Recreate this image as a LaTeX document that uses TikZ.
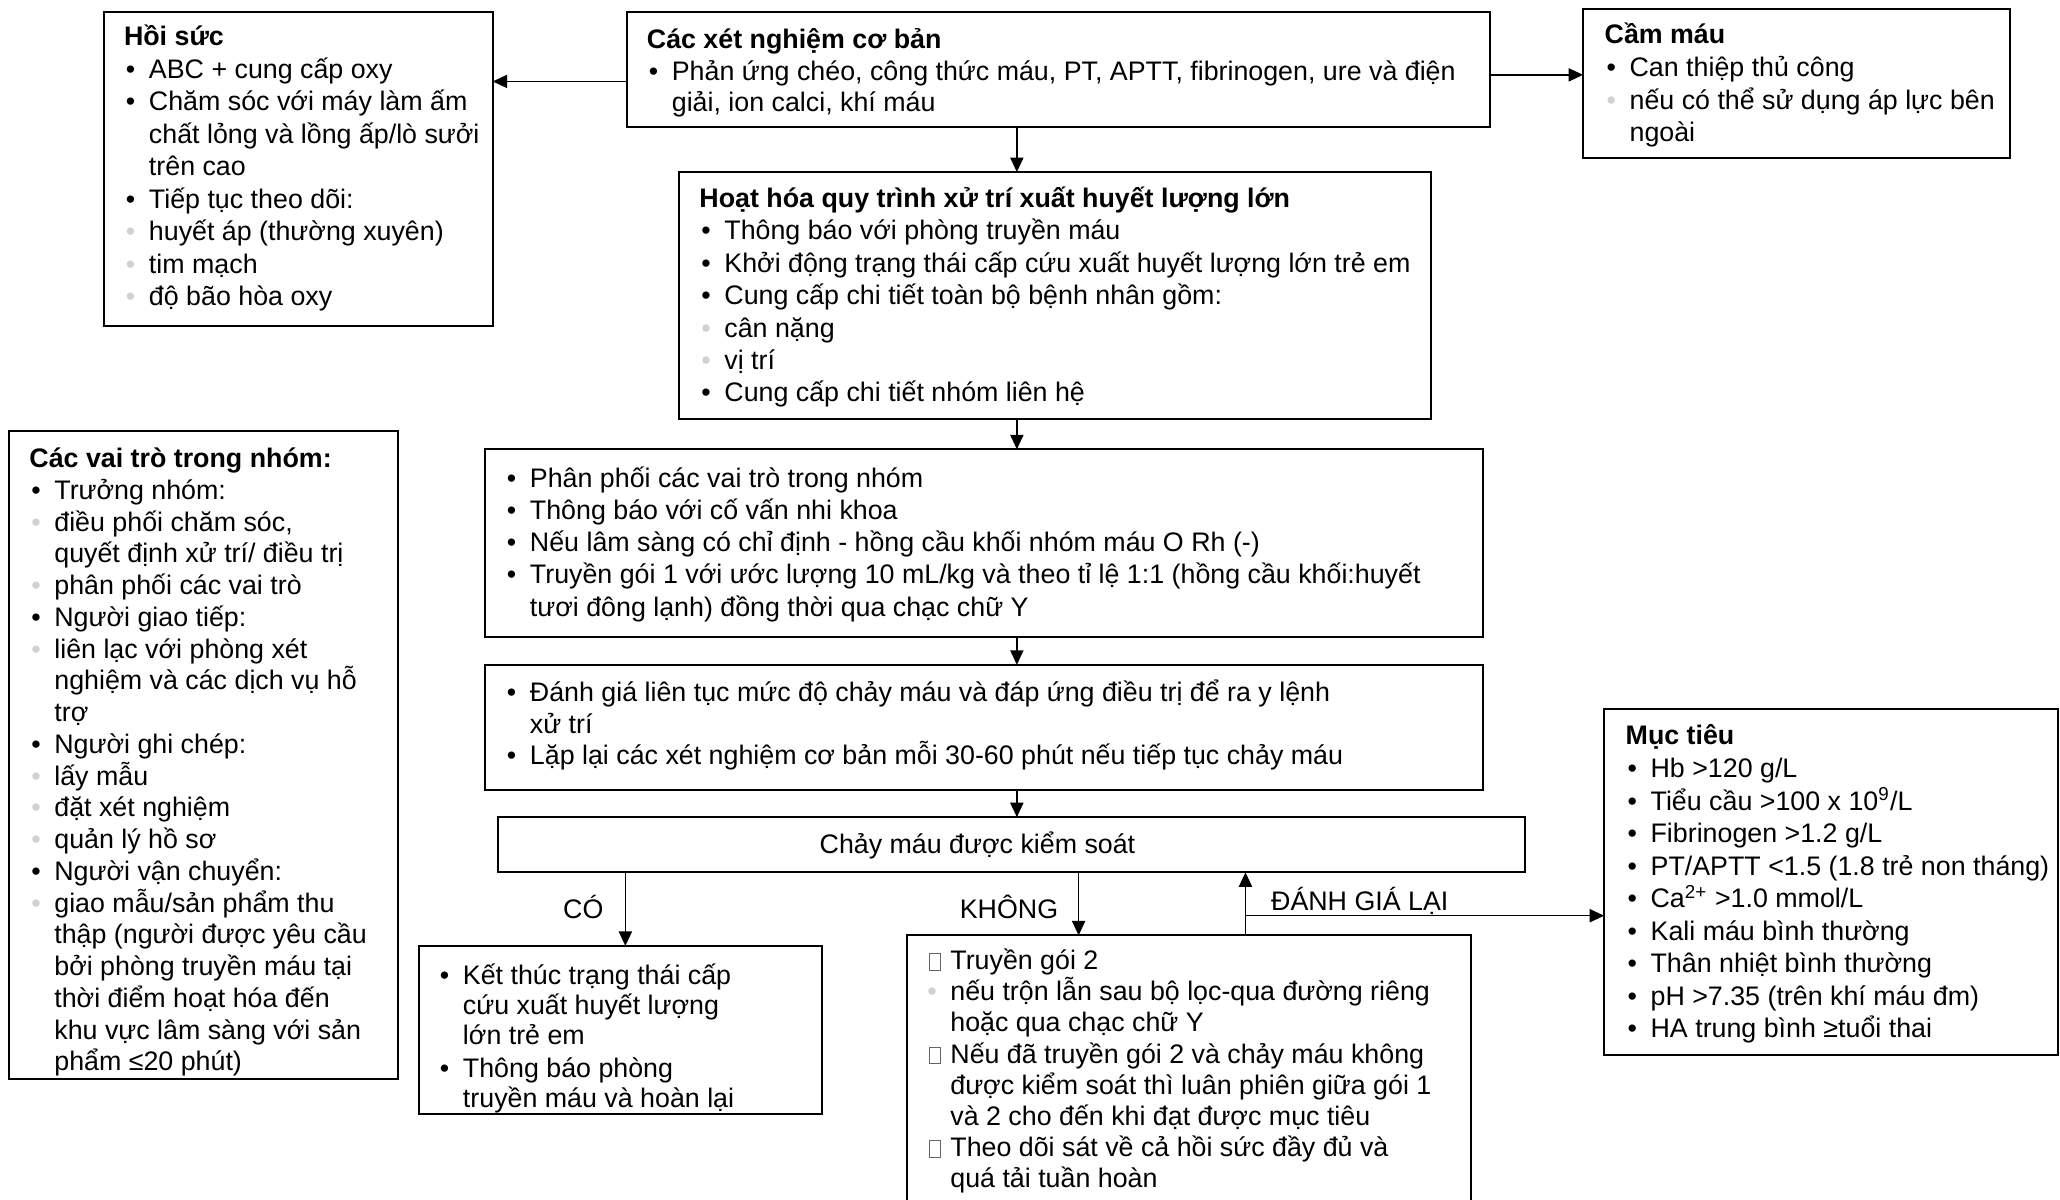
\documentclass[tikz,border=0pt]{standalone}
\usepackage{fontspec}
\setmainfont{Liberation Sans}
\usetikzlibrary{arrows.meta}

% item markers: black bullet, light grey sub-bullet, plain indent, empty glyph box
\newlength\itemind
\setlength\itemind{9.5pt}
\newcommand\blk{\makebox[\itemind][r]{\textbullet\hspace{5.2pt}}}
\newcommand\gry{\makebox[\itemind][r]{\textcolor{black!18}{\textbullet}\hspace{5.2pt}}}
\newcommand\ind{\makebox[\itemind]{}}
\newcommand\tofu{{\setlength\fboxsep{0pt}\setlength\fboxrule{0.35pt}\textcolor{black!60}{\fbox{\rule{0pt}{5.8pt}\rule{3.8pt}{0pt}}}}}
\newcommand\tfi{\makebox[\itemind][r]{\tofu\hspace{3.5pt}}}
% a block of left-aligned rows with a fixed line pitch; baseline = first row
\newcommand\rows[2]{\vtop{\baselineskip=#1\lineskiplimit=-50pt\lineskip=0pt\halign{##\hfil\cr#2\crcr}}}

\tikzset{
  box/.style={draw, line width=0.75pt, rectangle, anchor=north west, inner sep=0pt, outer sep=0pt},
  txt/.style={anchor=base west, inner sep=0pt, font=\fontsize{10.2pt}{12pt}\selectfont},
  lbl/.style={anchor=base, inner sep=0pt, font=\fontsize{10.2pt}{12pt}\selectfont},
  arr/.style={line width=0.55pt, -{Triangle[length=5.5pt,width=5pt]}}
}

\begin{document}
\begin{tikzpicture}[x=0.5pt, y=-0.5pt]
\useasboundingbox (0,0) rectangle (1568,913.4);
\fill[white] (0,0) rectangle (1568,913.4);
\clip (0,0) rectangle (1568,913.4);

% ---------- boxes ----------
\node[box, minimum width=148pt,   minimum height=119.5pt] (hoisuc)    at (79,9)    {};
\node[box, minimum width=328.5pt, minimum height=44pt]    (xetnghiem) at (477,9)   {};
\node[box, minimum width=162.5pt, minimum height=56.75pt] (cammau)    at (1205,7)  {};
\node[box, minimum width=286pt,   minimum height=94pt]    (hoathoa)   at (517,131) {};
\node[box, minimum width=148pt,   minimum height=246.5pt] (vaitro)    at (7,328)   {};
\node[box, minimum width=380pt,   minimum height=71.5pt]  (phanphoi)  at (369,342) {};
\node[box, minimum width=380pt,   minimum height=47.5pt]  (danhgia)   at (369,506) {};
\node[box, minimum width=391pt,   minimum height=21pt]    (kiemsoat)  at (379,622) {};
\node[box, minimum width=153.5pt, minimum height=64pt]    (co)        at (319,720) {};
\node[box, minimum width=215pt,   minimum height=124pt]   (khong)     at (690,712) {};
\node[box, minimum width=172.75pt,minimum height=131.5pt] (muctieu)   at (1221,540) {};

% ---------- box texts ----------
\node[txt] (thoisuc) at (94,35) {\rows{12.35pt}{%
\textbf{Hồi sức}\cr
\blk ABC + cung cấp oxy\cr
\blk Chăm sóc với máy làm ấm\cr
\ind chất lỏng và lồng ấp/lò sưởi\cr
\ind trên cao\cr
\blk Tiếp tục theo dõi:\cr
\gry huyết áp (thường xuyên)\cr
\gry tim mạch\cr
\gry độ bão hòa oxy}};

\node[txt] (txetnghiem) at (492,37) {\rows{12pt}{%
\textbf{Các xét nghiệm cơ bản}\cr
\blk Phản ứng chéo, công thức máu, PT, APTT, fibrinogen, ure và điện\cr
\ind giải, ion calci, khí máu}};

\node[txt] (tcammau) at (1221,33) {\rows{12.5pt}{%
\textbf{Cầm máu}\cr
\blk Can thiệp thủ công\cr
\gry nếu có thể sử dụng áp lực bên\cr
\ind ngoài}};

\node[txt] (thoathoa) at (532,158) {\rows{12.33pt}{%
\textbf{Hoạt hóa quy trình xử trí xuất huyết lượng lớn}\cr
\blk Thông báo với phòng truyền máu\cr
\blk Khởi động trạng thái cấp cứu xuất huyết lượng lớn trẻ em\cr
\blk Cung cấp chi tiết toàn bộ bệnh nhân gồm:\cr
\gry cân nặng\cr
\gry vị trí\cr
\blk Cung cấp chi tiết nhóm liên hệ}};

\node[txt] (tvaitro) at (22,356) {\rows{12.08pt}{%
\textbf{Các vai trò trong nhóm:}\cr
\blk Trưởng nhóm:\cr
\gry điều phối chăm sóc,\cr
\ind quyết định xử trí/ điều trị\cr
\gry phân phối các vai trò\cr
\blk Người giao tiếp:\cr
\gry liên lạc với phòng xét\cr
\ind nghiệm và các dịch vụ hỗ\cr
\ind trợ\cr
\blk Người ghi chép:\cr
\gry lấy mẫu\cr
\gry đặt xét nghiệm\cr
\gry quản lý hồ sơ\cr
\blk Người vận chuyển:\cr
\gry giao mẫu/sản phẩm thu\cr
\ind thập (người được yêu cầu\cr
\ind bởi phòng truyền máu tại\cr
\ind thời điểm hoạt hóa đến\cr
\ind khu vực lâm sàng với sản\cr
\ind phẩm ≤20 phút)}};

\node[txt] (tphanphoi) at (384,371) {\rows{12.25pt}{%
\blk Phân phối các vai trò trong nhóm\cr
\blk Thông báo với cố vấn nhi khoa\cr
\blk Nếu lâm sàng có chỉ định - hồng cầu khối nhóm máu O Rh (-)\cr
\blk Truyền gói 1 với ước lượng 10 mL/kg và theo tỉ lệ 1:1 (hồng cầu khối:huyết\cr
\ind tươi đông lạnh) đồng thời qua chạc chữ Y}};

\node[txt] (tdanhgia) at (384,534) {\rows{12pt}{%
\blk Đánh giá liên tục mức độ chảy máu và đáp ứng điều trị để ra y lệnh\cr
\ind xử trí\cr
\blk Lặp lại các xét nghiệm cơ bản mỗi 30-60 phút nếu tiếp tục chảy máu}};

\node[lbl] (tkiemsoat) at (744,650) {Chảy máu được kiểm soát};

\node[txt] (tco) at (333,749) {\rows{11.5pt}{%
\blk Kết thúc trạng thái cấp\cr
\ind cứu xuất huyết lượng\cr
\ind lớn trẻ em\cr
\noalign{\vskip1pt}
\blk Thông báo phòng\cr
\ind truyền máu và hoàn lại}};

\node[txt] (tkhong) at (704,738) {\rows{11.86pt}{%
\tfi Truyền gói 2\cr
\gry nếu trộn lẫn sau bộ lọc-qua đường riêng\cr
\ind hoặc qua chạc chữ Y\cr
\tfi Nếu đã truyền gói 2 và chảy máu không\cr
\ind được kiểm soát thì luân phiên giữa gói 1\cr
\ind và 2 cho đến khi đạt được mục tiêu\cr
\tfi Theo dõi sát về cả hồi sức đầy đủ và\cr
\ind quá tải tuần hoàn}};

\node[txt] (tmuctieu) at (1237,567) {\rows{12.39pt}{%
\textbf{Mục tiêu}\cr
\blk Hb >120 g/L\cr
\blk Tiểu cầu >100 x 10\textsuperscript{9}/L\cr
\blk Fibrinogen >1.2 g/L\cr
\blk PT/APTT <1.5 (1.8 trẻ non tháng)\cr
\blk Ca\textsuperscript{2+} >1.0 mmol/L\cr
\blk Kali máu bình thường\cr
\blk Thân nhiệt bình thường\cr
\blk pH >7.35 (trên khí máu đm)\cr
\blk HA trung bình ≥tuổi thai}};

% ---------- connector guides ----------
\coordinate (spine) at (774,0);
\coordinate (cox)   at (476,0);
\coordinate (nox)   at (821,0);
\coordinate (rex)   at (948,0);
\coordinate (yl)    at (0,62);
\coordinate (yr)    at (0,57);
\coordinate (yg)    at (0,697);
\coordinate (branch) at (rex |- yg);

% ---------- connectors ----------
\draw[arr] (xetnghiem.west |- yl) -- (hoisuc.east |- yl);
\draw[arr] (xetnghiem.east |- yr) -- (cammau.west |- yr);
\draw[arr] (xetnghiem.south -| spine) -- (hoathoa.north -| spine);
\draw[arr] (hoathoa.south -| spine) -- (phanphoi.north -| spine);
\draw[arr] (phanphoi.south -| spine) -- (danhgia.north -| spine);
\draw[arr] (danhgia.south -| spine) -- (kiemsoat.north -| spine);
\draw[arr] (kiemsoat.south -| cox) -- (co.north -| cox);
\draw[arr] (kiemsoat.south -| nox) -- (khong.north -| nox);
\draw[arr] (khong.north -| rex) -- (kiemsoat.south -| rex);
\draw[arr] (branch) -- (muctieu.west |- yg);

% ---------- connector labels ----------
\node[lbl] (lco)    at (444,699) {CÓ};
\node[lbl] (lkhong) at (768,699) {KHÔNG};
\node[lbl] (lre)    at (1035,693) {ĐÁNH GIÁ LẠI};
\end{tikzpicture}
\end{document}
